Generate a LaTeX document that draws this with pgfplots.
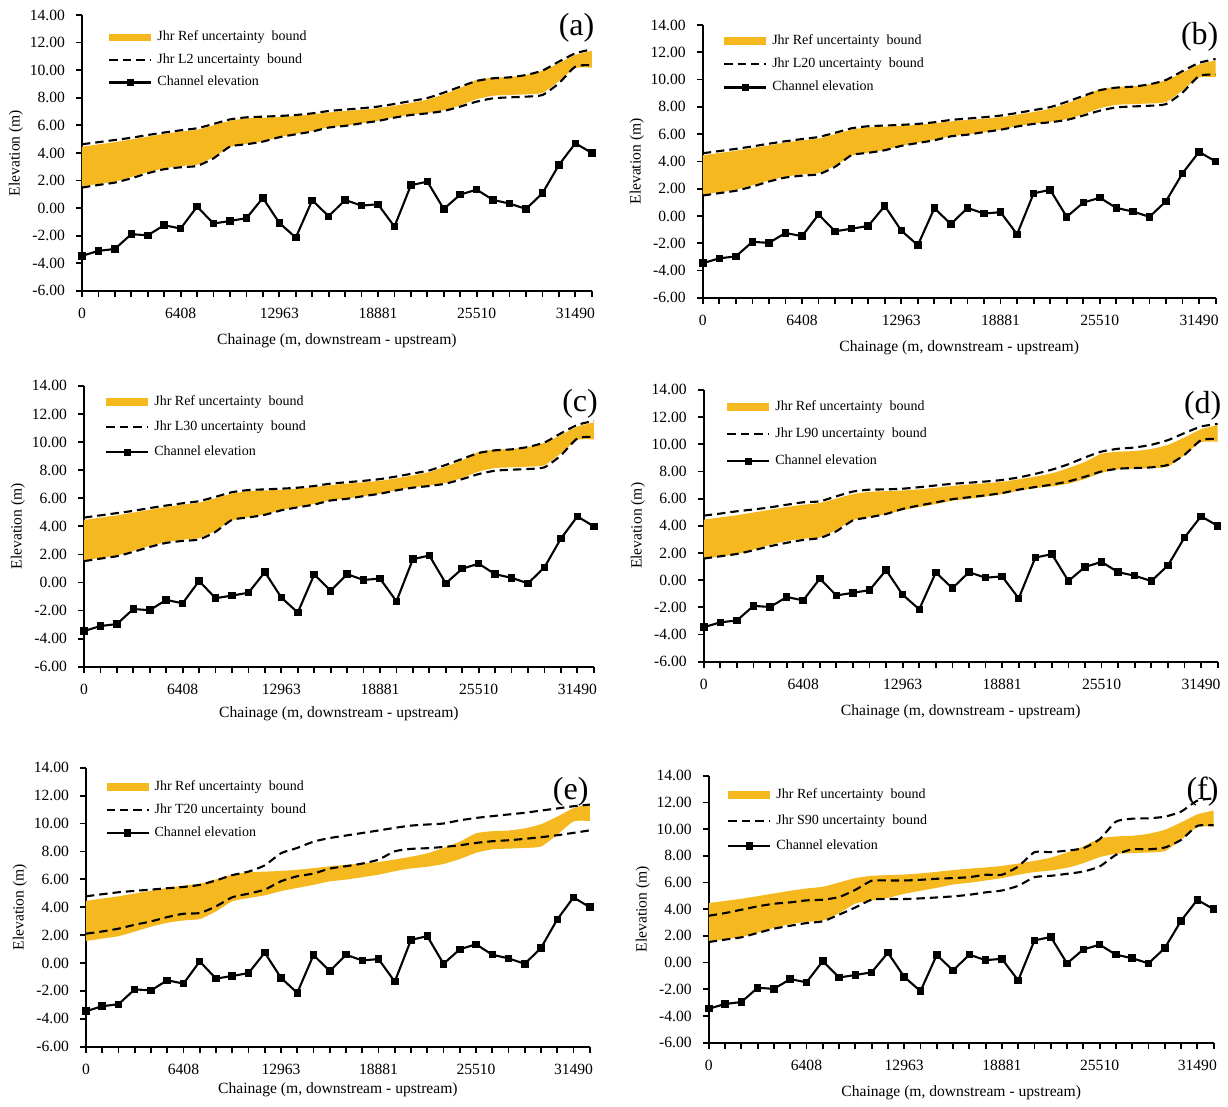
\documentclass[border=0pt]{standalone}
\usepackage{fontspec}
\setmainfont{Liberation Serif}
\usepackage{pgfplots}
\pgfplotsset{compat=1.18}
\usepackage{pgfplotstable}
\usepgfplotslibrary{fillbetween}

\definecolor{refband}{RGB}{245,184,31}

% i = cross-section index along the reach (downstream -> upstream)
\pgfplotstableread{
i  ch    refU  refL  l2U   l2L   l20U  l20L  l30U  l30L  l90U  l90L  t20U  t20L  s90U  s90L
0  -3.46 4.45  1.58  4.63  1.49  4.60  1.50  4.62  1.52  4.75  1.59  4.78  2.10  3.51  1.54
1  -3.10 4.62  1.75  4.78  1.68  4.76  1.68  4.78  1.70  4.90  1.76  4.93  2.26  3.71  1.72
2  -2.96 4.78  1.92  4.94  1.85  4.92  1.85  4.94  1.87  5.07  1.93  5.07  2.46  3.96  1.89
3  -1.89 4.98  2.25  5.10  2.16  5.10  2.16  5.10  2.18  5.20  2.20  5.17  2.74  4.21  2.22
4  -1.97 5.18  2.60  5.30  2.53  5.30  2.53  5.30  2.53  5.36  2.50  5.26  2.98  4.41  2.54
5  -1.24 5.38  2.88  5.48  2.82  5.48  2.82  5.48  2.82  5.55  2.75  5.36  3.29  4.51  2.76
6  -1.48 5.55  3.05  5.64  2.96  5.64  2.96  5.64  2.96  5.73  2.96  5.45  3.53  4.66  2.96
7   0.11 5.68  3.15  5.79  3.06  5.79  3.06  5.79  3.06  5.80  3.10  5.60  3.58  4.71  3.09
8  -1.12 6.00  3.70  6.10  3.61  6.10  3.61  6.10  3.61  6.17  3.60  5.92  4.06  4.91  3.59
9  -0.93 6.33  4.42  6.43  4.46  6.43  4.46  6.43  4.46  6.52  4.40  6.30  4.71  5.45  4.13
10 -0.73 6.50  4.65  6.58  4.63  6.58  4.63  6.58  4.63  6.66  4.63  6.55  4.97  6.13  4.71
11  0.74 6.55  4.85  6.63  4.82  6.63  4.82  6.63  4.82  6.68  4.87  7.00  5.26  6.15  4.76
12 -1.07 6.60  5.15  6.68  5.14  6.68  5.14  6.68  5.14  6.73  5.24  7.87  5.86  6.15  4.76
13 -2.14 6.68  5.38  6.75  5.35  6.75  5.35  6.75  5.35  6.84  5.50  8.25  6.22  6.20  4.81
14  0.57 6.80  5.60  6.87  5.55  6.87  5.55  6.87  5.55  6.97  5.72  8.70  6.41  6.28  4.88
15 -0.59 6.93  5.85  7.04  5.84  7.04  5.84  7.04  5.84  7.09  5.96  8.96  6.77  6.33  4.96
16  0.59 7.04  5.98  7.14  5.96  7.14  5.96  7.14  5.96  7.17  6.10  9.14  6.94  6.40  5.08
17  0.18 7.13  6.15  7.24  6.15  7.24  6.15  7.24  6.15  7.26  6.24  9.32  7.13  6.58  5.26
18  0.28 7.24  6.33  7.36  6.32  7.36  6.32  7.36  6.32  7.37  6.41  9.50  7.41  6.58  5.40
19 -1.34 7.42  6.58  7.55  6.56  7.55  6.56  7.55  6.56  7.56  6.66  9.69  8.01  7.20  5.75
20  1.66 7.62  6.78  7.76  6.75  7.76  6.75  7.76  6.75  7.82  6.85  9.85  8.18  8.27  6.40
21  1.92 7.86  6.90  7.98  6.87  7.98  6.87  7.98  6.87  8.13  7.03  9.93  8.23  8.27  6.50
22 -0.06 8.25  7.10  8.37  7.04  8.37  7.04  8.37  7.04  8.53  7.27  10.00 8.32  8.39  6.65
23  0.98 8.70  7.45  8.80  7.36  8.80  7.36  8.80  7.36  9.03  7.61  10.23 8.44  8.57  6.82
24  1.34 9.30  7.90  9.22  7.72  9.22  7.72  9.22  7.72  9.46  8.00  10.40 8.61  9.24  7.20
25  0.59 9.45  8.15  9.41  7.96  9.41  7.96  9.41  7.96  9.67  8.20  10.53 8.73  10.56 8.07
26  0.33 9.50  8.20  9.48  8.03  9.48  8.03  9.48  8.03  9.76  8.25  10.65 8.80  10.78 8.49
27 -0.06 9.65  8.25  9.65  8.08  9.65  8.08  9.65  8.08  9.96  8.30  10.77 8.90  10.81 8.49
28  1.08 9.95  8.35  9.97  8.20  9.97  8.20  9.97  8.20  10.30 8.48  10.93 9.02  10.93 8.62
29  3.13 10.50 9.20  10.62 9.05  10.62 9.05  10.62 9.05  10.82 9.22  11.08 9.16  11.31 9.19
30  4.70 11.10 10.15 11.22 10.26 11.22 10.26 11.22 10.26 11.30 10.30 11.24 9.33  12.13 10.24
31  4.00 11.40 10.18 11.51 10.37 11.51 10.37 11.51 10.37 11.50 10.40 11.36 9.51  12.30 10.29
}\bounds

\tikzset{panel tag/.style={font=\fontsize{16}{16}\selectfont, anchor=center}}

\pgfplotsset{
  panel/.style={
    scale only axis, anchor=south west,
    xmin=0, xmax=31, ymin=-6, ymax=14,
    axis x line=bottom, axis y line=left,
    axis line style={-, line width=1.1pt},
    xtick={0,6,...,30},
    xticklabels={0,6408,12963,18881,25510,31490},
    minor xtick={0,...,31},
    ytick={-6,-4,...,14},
    tick align=outside, major tick length=3pt, minor tick length=3pt,
    every tick/.style={black, line width=0.9pt},
    tick label style={font=\fontsize{7.8}{9}\selectfont},
    yticklabel style={xshift=-2pt, /pgf/number format/fixed, /pgf/number format/fixed zerofill,
      /pgf/number format/precision=2, /pgf/number format/assume math mode=true},
    xticklabel style={yshift=-2pt},
    xlabel={Chainage (m, downstream - upstream)},
    ylabel={Elevation (m)},
    every axis y label/.style={at={(axis description cs:0,0.5)}, xshift=-33pt, rotate=90,
      anchor=center, font=\fontsize{7.8}{9}\selectfont},
    every axis x label/.style={at={(axis description cs:0.5,0)}, yshift=-25pt,
      anchor=center, font=\fontsize{7.8}{9}\selectfont},
    clip=false,
    legend cell align=left,
    legend style={draw=none, fill=none, inner sep=0pt, anchor=north west, column sep=2pt,
      font=\fontsize{7}{8}\selectfont,
      nodes={inner sep=0.5pt, text height=5pt, text depth=1.5pt}},
  },
  bound line/.style={black, line width=1.05pt, dash pattern=on 4.2pt off 2.5pt, smooth, tension=0.35},
  channel line/.style={black, line width=1.05pt, mark=square*, mark size=1.35pt},
}

% #1 path prefix, #2 upper bound column, #3 lower bound column, #4 run name
\newcommand\drawpanel[4]{%
  \addplot[draw=none, smooth, tension=0.35, name path=#1u, forget plot] table[x=i, y=refU] {\bounds};
  \addplot[draw=none, smooth, tension=0.35, name path=#1l, forget plot] table[x=i, y=refL] {\bounds};
  \addplot[fill=refband, draw=none,
    legend image code/.code={\fill[refband] (0pt,-2pt) rectangle (21pt,2pt);}]
    fill between[of=#1u and #1l];
  \addlegendentry{Jhr Ref uncertainty~ bound}
  \addplot[bound line,
    legend image code/.code={\draw[black, line width=1.05pt, dash pattern=on 4.2pt off 2.5pt] (0pt,0pt) -- (21pt,0pt);}]
    table[x=i, y=#2] {\bounds};
  \addlegendentry{Jhr #4 uncertainty~ bound}
  \addplot[bound line, forget plot] table[x=i, y=#3] {\bounds};
  \addplot[channel line,
    legend image code/.code={\draw[black, line width=1.05pt] (0pt,0pt) -- (21pt,0pt);
      \fill[black] (9.2pt,-1.3pt) rectangle (11.8pt,1.3pt);}]
    table[x=i, y=ch] {\bounds};
  \addlegendentry{Channel elevation}
}

\begin{document}
\begin{tikzpicture}

\begin{axis}[panel, at={(41pt,406pt)}, width=255pt, height=138pt,
  legend style={at={(axis description cs:0.051,0.947)}, row sep=3.75pt}]
\drawpanel{a}{l2U}{l2L}{L2}
\node[panel tag] at (axis description cs:0.97,0.953) {(a)};
\end{axis}

\begin{axis}[panel, at={(351.5pt,402.5pt)}, width=256.5pt, height=136.5pt,
  legend style={at={(axis description cs:0.039,0.972)}, row sep=4.25pt}]
\drawpanel{b}{l20U}{l20L}{L20}
\node[panel tag] at (axis description cs:0.969,0.956) {(b)};
\end{axis}

\begin{axis}[panel, at={(42pt,218pt)}, width=255pt, height=140.5pt,
  every axis x label/.append style={yshift=1.5pt},
  legend style={at={(axis description cs:0.041,0.97)}, row sep=5pt}]
\drawpanel{c}{l30U}{l30L}{L30}
\node[panel tag] at (axis description cs:0.973,0.936) {(c)};
\end{axis}

\begin{axis}[panel, at={(352pt,220.5pt)}, width=257pt, height=136pt,
  legend style={at={(axis description cs:0.043,0.965)}, row sep=6pt}]
\drawpanel{d}{l90U}{l90L}{L90}
\node[panel tag] at (axis description cs:0.971,0.94) {(d)};
\end{axis}

\begin{axis}[panel, at={(43pt,28pt)}, width=252pt, height=139.5pt,
  every axis x label/.append style={yshift=3.5pt},
  legend style={at={(axis description cs:0.038,0.959)}, row sep=4pt}]
\drawpanel{e}{t20U}{t20L}{T20}
\node[panel tag] at (axis description cs:0.962,0.914) {(e)};
\end{axis}

\begin{axis}[panel, at={(354.5pt,30pt)}, width=252.5pt, height=133.5pt,
  legend style={at={(axis description cs:0.036,0.957)}, row sep=5.25pt}]
\drawpanel{f}{s90U}{s90L}{S90}
\node[panel tag] at (axis description cs:0.978,0.94) {(f)};
\end{axis}

% page frame
\path (0,0) rectangle (614pt,551.5pt);
\end{tikzpicture}
\end{document}
